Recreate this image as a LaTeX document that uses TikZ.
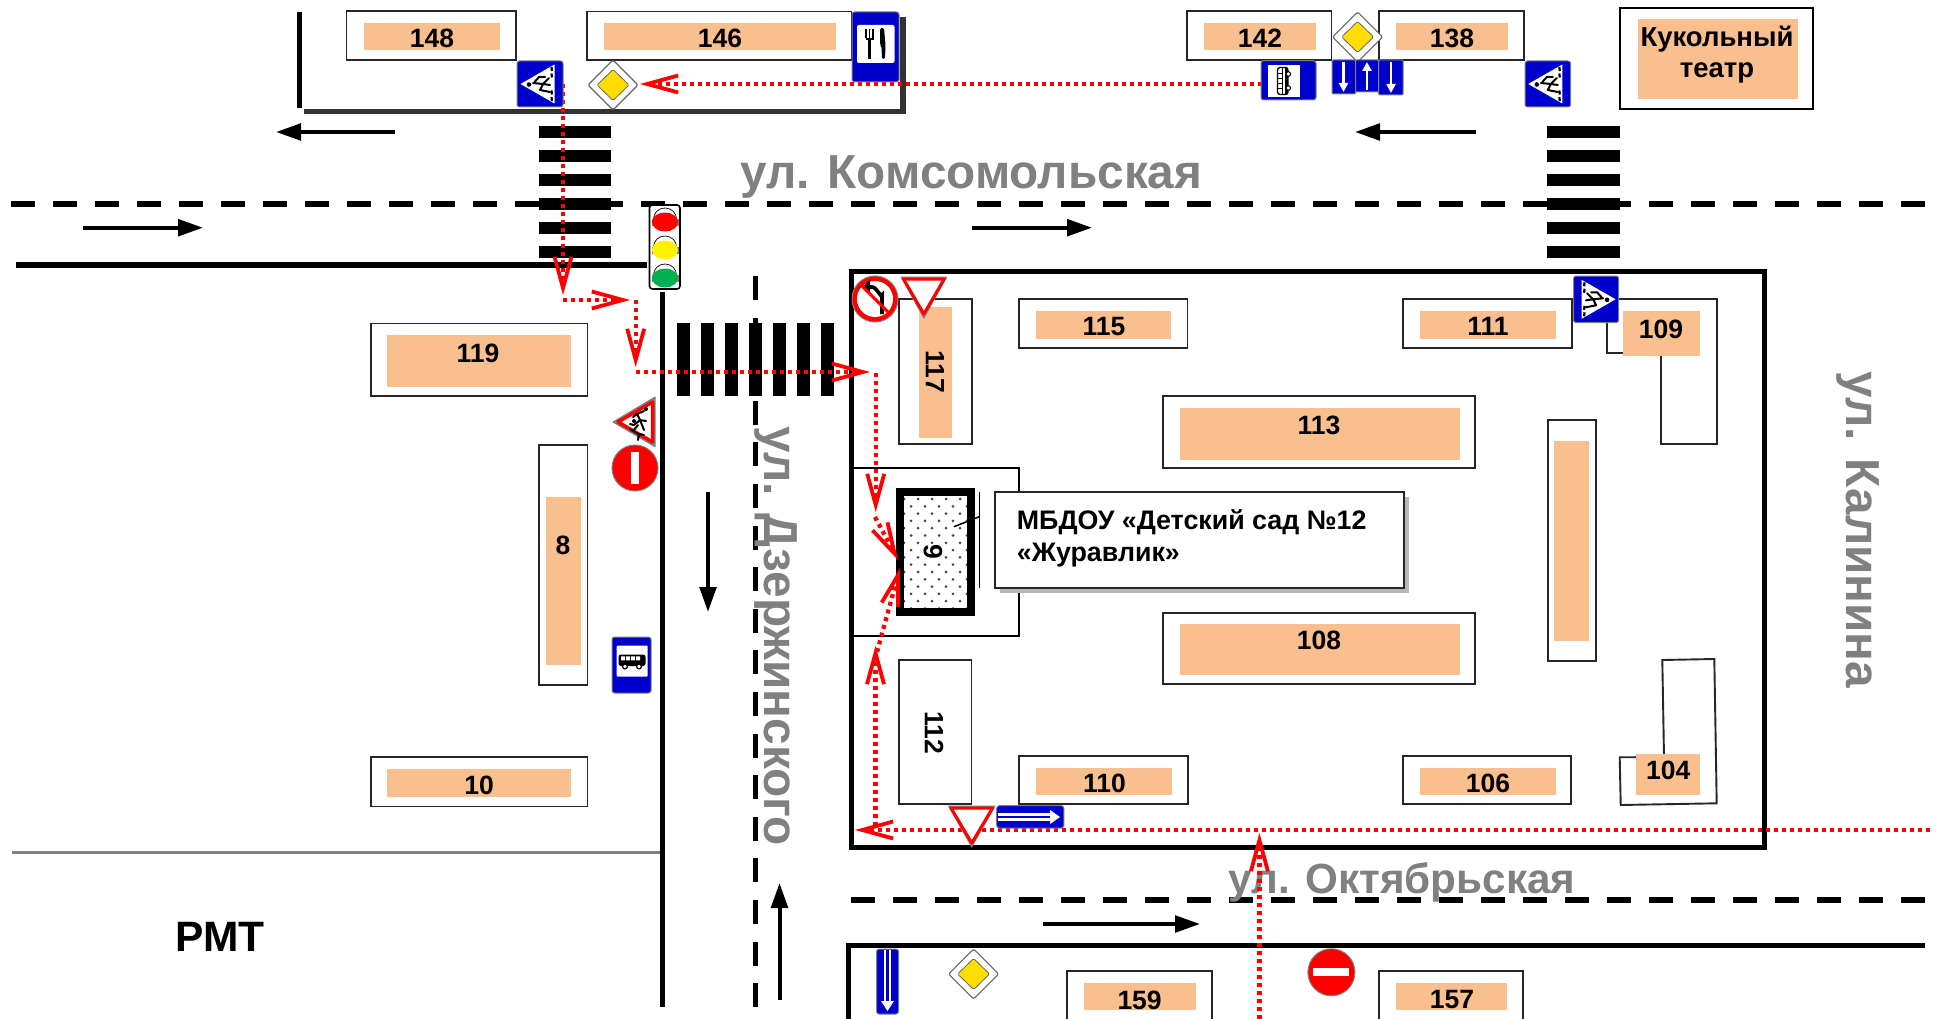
\documentclass[tikz,border=0pt]{standalone}
\usepackage{fontspec}
\setmainfont{Liberation Sans}
\usetikzlibrary{arrows.meta}
\definecolor{org}{HTML}{F9BF8F}
\definecolor{sblue}{HTML}{0000CC}
\definecolor{sgray}{HTML}{808080}
\definecolor{sred}{HTML}{FF0000}
\definecolor{syel}{HTML}{FFDD00}
\definecolor{lgreen}{HTML}{00B050}
\tikzset{
  bld/.style={draw=black!85,line width=1.9pt,fill=white},
  orgfill/.style={fill=org},
  num/.style={font=\fontsize{26.5}{28}\selectfont\bfseries,inner sep=0pt,text=black},
  streetname/.style={font=\fontsize{47.7}{50}\selectfont\bfseries,inner sep=0pt,text=sgray},
  roaddash/.style={line width=6pt,dash pattern=on 24pt off 18pt},
  roadsolid/.style={line width=6pt,black},
  zebra/.style={fill=black},
  drive/.style={line width=4pt,-{Triangle[length=25pt,width=16.5pt]}},
  routed/.style={draw=sred,line width=4.3pt,dash pattern=on 4pt off 4pt,
     -{Straight Barb[length=31pt,width=17pt,line width=3.8pt]}},
  signblue/.style={fill=sblue,draw=gray,line width=1pt,rounded corners=2.5pt},
  whitearrow/.style={white,line width=2.4pt,-{Triangle[length=9pt,width=9pt]}},
}
\newcommand{\bx}[4]{\draw[bld] (#1,#2) rectangle (#3,#4);}
\newcommand{\og}[4]{\fill[orgfill] (#1,#2) rectangle (#3,#4);}
\newcommand{\maindiam}[2]{%
  \draw[fill=white,draw=black!60,line width=1.2pt,line join=round,rounded corners=2pt] (#1-25,#2)--(#1,#2-25)--(#1+25,#2)--(#1,#2+25)--cycle;
  \draw[fill=syel,draw=black!60,line width=.8pt,rounded corners=1.5pt] (#1-16,#2)--(#1,#2-15.5)--(#1+16,#2)--(#1,#2+15.5)--cycle;}
\newcommand{\yieldsign}[3]{% left x, top y, right x ; height 41
  \draw[draw=gray,fill=gray,line width=1pt,line join=round] (#1,#2)--(#3,#2)--({(#1+#3)/2},#2+41)--cycle;
  \draw[draw=sred,fill=white,line width=3pt,line join=round] (#1+2.5,#2+2)--(#3-2.5,#2+2)--({(#1+#3)/2},#2+37)--cycle;}
\newcommand{\pedglyph}{%
  \fill[black] (-11,.5) circle (2.3);
  \draw[black,line width=2pt,line cap=round,line join=round] (-7,-1)--(3,0)--(9,-6) (-5.5,-2)--(-1,-7)--(5,-7) (3,0)--(0,6)--(10,8) (3,0)--(10,1);
  \foreach \yy in {-15,-8.5,8.5,15}{\draw[black,line width=2.2pt] (11.5,\yy-2)--(12,\yy+2);}
}
\newcommand{\pedsign}[5]{% x1 y1 x2 y2 mirror(+1 left, -1 right)
  \draw[signblue] (#1,#2) rectangle (#3,#4);
  \begin{scope}[shift={({(#1+#3)/2},{(#2+#4)/2})},xscale=#5]
    \fill[white] (-19.5,0)--(14.5,-19.5)--(14.5,19.5)--cycle;
    \pedglyph
  \end{scope}}
\newcommand{\busglyph}[3]{%
  \begin{scope}[shift={(#1,#2)},rotate=#3]
    \fill[black,rounded corners=2.5pt] (-13.5,-6.5) rectangle (13.5,5);
    \fill[white] (-11,-4.7) rectangle (-7,-.7) (-6,-4.7) rectangle (-2,-.7) (-1,-4.7) rectangle (3,-.7) (4,-4.7) rectangle (8,-.7);
    \draw[black,fill=white,line width=1.2pt] (-7,5.5) circle (2.4) (7,5.5) circle (2.4);
  \end{scope}}
\newcommand{\tramglyph}[3]{%
  \begin{scope}[shift={(#1,#2)},rotate=#3]
    \draw[black,fill=white,line width=1.3pt,rounded corners=2.5pt] (-13.5,-5.5) rectangle (13.5,5);
    \draw[black,line width=1pt] (-13.5,-.5)--(13.5,-.5) (-8,-5.5)--(-8,-.5) (-3,-5.5)--(-3,-.5) (2,-5.5)--(2,-.5) (7,-5.5)--(7,-.5);
    \fill[black] (-13,2) rectangle (13,5);
    \draw[black,fill=white,line width=1.1pt] (-7,5.3) circle (2.3) (7,5.3) circle (2.3);
  \end{scope}}
\begin{document}
\begin{tikzpicture}[x=1pt,y=-1pt]
\useasboundingbox (0,0) rectangle (1937,1019);
\fill[white] (0,0) rectangle (1937,1019);

% --- roads
\draw[roaddash] (11,204)--(1930,204);
\draw[roadsolid] (16,265)--(647,265);
\draw[black,line width=4.7pt] (662.5,292)--(662.5,1007);
\draw[black,line width=5pt,dash pattern=on 24pt off 17.6pt] (755.5,276)--(755.5,1019);
\draw[roaddash] (851.4,900)--(1930,900);
\draw[black,line width=5pt] (848.6,1019)--(848.6,945)--(1925,945);
\draw[sgray,line width=2.4pt] (12,852.3)--(660,852.3);
\draw[black,line width=5pt] (299,12)--(299,108);
\draw[black!80,line width=5.5pt] (304,111.5)--(903,111.5)--(903,17);

% --- street names
\node[streetname] (komsomol) at (971.5,177) {ул. Комсомольская};
\node[streetname] (dzer) at (776,636) [rotate=-90] {ул. Дзержинского};
\node[streetname] (kalin) at (1858,530) [rotate=-90] {ул. Калинина};
\node[streetname,font=\fontsize{42.2}{46}\selectfont\bfseries] (okt) at (1402,882) {ул. Октябрьская};
\node[num,font=\fontsize{42.5}{46}\selectfont\bfseries] (rmt) at (220,937) {РМТ};

% --- driving direction arrows
\coordinate (d1a) at (395,132); \coordinate (d1b) at (276,132);
\coordinate (d2a) at (1475.5,132); \coordinate (d2b) at (1355,132);
\coordinate (d3a) at (83,227.7); \coordinate (d3b) at (203,227.7);
\coordinate (d4a) at (972,227.7); \coordinate (d4b) at (1092,227.7);
\coordinate (d5a) at (708,492); \coordinate (d5b) at (708,612);
\coordinate (d6a) at (779.5,1000); \coordinate (d6b) at (779.5,883);
\coordinate (d7a) at (1043,924); \coordinate (d7b) at (1200,924);
\foreach \a/\b in {d1a/d1b,d2a/d2b,d3a/d3b,d4a/d4b,d5a/d5b,d6a/d6b,d7a/d7b}{\draw[drive] (\a)--(\b);}

% --- zebra crossings
\foreach \yy in {126,150,174,198,222,246}{
  \fill[zebra] (539,\yy) rectangle (611,\yy+12);
  \fill[zebra] (1547.4,\yy) rectangle (1620,\yy+12);}
\foreach \xx in {677,701,725,749,773,797,821}{\fill[zebra] (\xx,323) rectangle (\xx+13,396);}

% --- buildings north
\bx{346.5}{11}{515.7}{60}\og{364}{23}{500}{50}\node[num] (b148) at (432,38.5) {148};
\bx{587}{11.5}{851.5}{60}\og{604}{23}{836}{50}\node[num] (b146) at (720,38.5) {146};
\bx{1186.7}{11}{1331.5}{60}\og{1204}{23}{1316}{50}\node[num] (b142) at (1260,38.5) {142};
\bx{1379}{11}{1524}{60}\og{1396}{23}{1508}{50}\node[num] (b138) at (1452,38.5) {138};
\draw[black,line width=2.5pt,fill=white] (1620,8) rectangle (1813,109);
\og{1638}{19}{1798}{99}
\node[num,font=\fontsize{27.5}{28}\selectfont\bfseries] (kuk1) at (1717,39.5) {Кукольный};
\node[num,font=\fontsize{27.5}{28}\selectfont\bfseries] (kuk2) at (1717,73) {театр};

% --- west buildings
\bx{370.6}{323.5}{587.5}{396}\og{387}{335}{571}{387}\node[num] (b119) at (478,353) {119};
\bx{538.6}{444.7}{587.5}{685}\og{546}{496.6}{581}{664.6}\node[num] (b8) at (563,545.5) {8};
\bx{370.7}{757}{587.5}{806.5}\og{386.7}{769}{571}{797}\node[num] (b10) at (479,785) {10};

% --- block
\draw[black,line width=5pt] (851.5,271) rectangle (1764,847.3);
\draw[black,line width=1.8pt] (851.5,468)--(1019.3,468)--(1019.3,635.7)--(851.5,635.7);

\bx{899.3}{299.3}{971.7}{444}\og{919}{306.7}{951.7}{437.7}\node[num,rotate=-90] (b117) at (935,371.7) {117};
\bx{1019}{299.3}{1187.5}{348}\og{1036}{311}{1171}{339}\node[num] (b115) at (1104,326.5) {115};
\bx{1403}{299.3}{1572}{348}\og{1420}{311}{1556}{339}\node[num] (b111) at (1488,326.5) {111};
\draw[bld] (1607,299.3)--(1716.6,299.3)--(1716.6,444)--(1661,444)--(1661,353)--(1607,353)--cycle;
\og{1622.7}{311}{1700}{356}\node[num] (b109) at (1661,329) {109};
\bx{1163}{396}{1475}{468}\og{1180}{408}{1460}{459.5}\node[num] (b113) at (1319,425) {113};
\bx{1163}{612.6}{1475}{684}\og{1180}{624}{1460}{674.6}\node[num] (b108) at (1319,640) {108};
\bx{1548}{420}{1596}{661}\og{1554}{441}{1589}{641}
\bx{899.3}{660}{971.5}{804}\node[num,rotate=-90] (b112) at (934,733) {112};
\bx{1019}{755.7}{1187.8}{804.3}\og{1036}{768}{1172}{794.7}\node[num] (b110) at (1104.5,783) {110};
\bx{1403}{756}{1571}{804.3}\og{1420}{768}{1556}{795}\node[num] (b106) at (1488,783) {106};
\draw[bld] (1662.3,660)--(1714.3,659)--(1716.7,803.3)--(1620.7,805)--(1619.7,757.3)--(1664,757)--cycle;
\og{1636}{754}{1700}{795}\node[num] (b104) at (1668.3,770.5) {104};

% --- south buildings
\bx{1067}{971}{1212}{1030}\og{1084}{983}{1196}{1010}\node[num] (b159) at (1139.6,1000) {159};
\bx{1378.6}{971}{1523}{1030}\og{1396}{983}{1507}{1010}\node[num] (b157) at (1452,1000) {157};

% --- building 9
\fill[white] (903,496) rectangle (967.7,607);
\begin{scope}
\clip (900,492) rectangle (970,610);
\foreach \r in {0,...,15}{
  \pgfmathsetmacro{\off}{mod(\r,2)*7}
  \foreach \c in {0,...,5}{\fill[black!72] (904+\c*14+\off,499+\r*7.3) circle (1.5);}}
\end{scope}
\draw[black,line width=8pt] (899.7,492) rectangle (971,611.7);
\node[num,rotate=-90,fill=white,inner sep=0pt] (b9) at (933,551.7) {9};
\draw[black,line width=1.5pt] (979.3,492)--(979.3,587.7);
\draw[black,line width=1.5pt] (954,526.7)--(979.3,516.7);
\fill[black!28] (1000,497) rectangle (1409,593);
\draw[black!85,line width=1.8pt,fill=white] (995,492) rectangle (1404,588);
\node[num,anchor=west,font=\fontsize{26.8}{28}\selectfont\bfseries] (kg1) at (1016.7,522) {МБДОУ «Детский сад №12};
\node[num,anchor=west,font=\fontsize{26.8}{28}\selectfont\bfseries] (kg2) at (1016.7,555) {«Журавлик»};

% --- red route
\coordinate (r1a) at (563,84);  \coordinate (r1b) at (563,295);
\coordinate (r2a) at (1262,84); \coordinate (r2b) at (640,84);
\coordinate (r3a) at (563,300); \coordinate (r3b) at (630,300);
\coordinate (r4a) at (635.7,300); \coordinate (r4b) at (635.7,367);
\coordinate (r5a) at (635.7,372); \coordinate (r5b) at (870,372);
\coordinate (r6a) at (875.7,373); \coordinate (r6b) at (875.7,512);
\coordinate (r7a) at (875,517); \coordinate (r7b) at (898,560);
\coordinate (r8a) at (877,652); \coordinate (r8b) at (900,568);
\coordinate (r9a) at (875.5,826); \coordinate (r9b) at (875.5,646);
\coordinate (r10a) at (1930,830); \coordinate (r10b) at (855,830);
\coordinate (r11a) at (1259.4,1019); \coordinate (r11b) at (1259.4,833);
\foreach \a/\b in {r1a/r1b,r2a/r2b,r3a/r3b,r4a/r4b,r5a/r5b,r6a/r6b,r7a/r7b,r8a/r8b,r9a/r9b,r10a/r10b,r11a/r11b}{\draw[routed] (\a)--(\b);}

% --- traffic light
\draw[black,line width=1.6pt,fill=white,rounded corners=3pt] (649.5,205) rectangle (680,289);
\foreach \cy/\cc in {220/sred,248/yellow,276/lgreen}{
  \fill[gray] (651.5,\cy-1) rectangle (678.5,\cy+6);
  \draw[black,line width=.7pt,fill=white] (665,\cy-1) ellipse (11.5 and 11);
  \fill[\cc] (665,\cy+2) ellipse (13 and 9.5);
}

% --- signs
\pedsign{517}{61}{563}{107}{1}
\pedsign{1525}{61}{1570.6}{107}{1}
\pedsign{1573.5}{276}{1618.6}{322.6}{-1}
\maindiam{613}{85}
\maindiam{1357.6}{37}
\maindiam{973.6}{974}

% food
\draw[signblue] (852,12) rectangle (899,82);
\fill[white,rounded corners=2pt] (857,25) rectangle (894.5,63);
\draw[black,line width=1.2pt] (866,29)--(866,38) (869.5,29)--(869.5,38) (873,29)--(873,38);
\draw[black,line width=2.4pt] (865.5,39)--(873.5,39) (869.5,39)--(869.5,59);
\fill[black,rounded corners=1.5pt] (880,28)--(884,28)--(885.5,45)--(885,59)--(882,59)--(881.5,46)--(880,45)--cycle;

% side bus
\draw[signblue] (1261,60.7) rectangle (1316,100);
\fill[white] (1268,65) rectangle (1300,97);
\tramglyph{1283}{81}{90}

% lanes
\draw[signblue,rounded corners=1pt] (1332,60) rectangle (1355.5,94);
\draw[signblue,rounded corners=1pt] (1378.6,60) rectangle (1403,95);
\draw[signblue,rounded corners=1pt] (1355.5,60) rectangle (1378.6,92);
\coordinate (la1) at (1343.5,62); \coordinate (lb1) at (1343.5,92);
\coordinate (la2) at (1367,90); \coordinate (lb2) at (1367,62);
\coordinate (la3) at (1391,62); \coordinate (lb3) at (1391,93);
\foreach \a/\b in {la1/lb1,la2/lb2,la3/lb3}{\draw[whitearrow] (\a)--(\b);}

% bus stop
\draw[signblue] (612,637) rectangle (651,693);
\fill[white,rounded corners=1pt] (616.7,645.7) rectangle (647.7,676.7);
\busglyph{632}{661}{0}

% no left turn
\draw[gray,fill=sred,line width=1pt] (875,299) circle (23);
\fill[white] (875,299) circle (18);
\draw[black,line width=3.6pt] (882,314)--(882,295) to[out=-90,in=0] (872,287)--(868,287);
\fill[black] (870,280)--(870,294)--(862,287)--cycle;
\draw[sred,line width=3pt] (861,285)--(889,313);
\yieldsign{901}{277}{946.7}

% school
\draw[gray,line width=1pt,fill=gray,line join=round] (613,422)--(655,397)--(655,446.7)--cycle;
\draw[sred,line width=3.5pt,fill=white,line join=round] (618,422)--(652.5,402)--(652.5,442)--cycle;
\draw[black,line width=2pt,line cap=round] (644,411)--(637,414)--(640,420)--(634,425)--(630,424) (640,420)--(646,421) (637,414)--(633,417) (640,420)--(644,430);
\draw[black,line width=2pt,line cap=round] (638,425)--(633,431)--(639,434)--(638,440) (633,431)--(630,429) (639,434)--(644,435);
\fill[black] (646,409) circle (2) (634,421) circle (2);

% no entry
\draw[gray,fill=sred,line width=1pt] (635,468) circle (23);
\fill[white] (631,452) rectangle (639,484);
\draw[gray,fill=sred,line width=1pt] (1331.4,972.3) circle (23.5);
\fill[white] (1313.4,968.3) rectangle (1349.4,976.3);

% yield 2 and one way
\yieldsign{948.5}{806}{995}
\draw[signblue] (996.7,805.7) rectangle (1063.8,828);
\fill[white] (998,813.3) rectangle (1050,820.7);
\fill[sblue] (998,815.8) rectangle (1050,818.2);
\fill[white] (1050,810)--(1060,817)--(1050,824)--cycle;
\draw[signblue] (876.5,949) rectangle (898.5,1014);
\fill[white] (884,950) rectangle (891,1002);
\fill[sblue] (886.3,950) rectangle (888.7,1002);
\fill[white] (881,1001)--(894,1001)--(887.5,1011)--cycle;
\end{tikzpicture}
\end{document}
